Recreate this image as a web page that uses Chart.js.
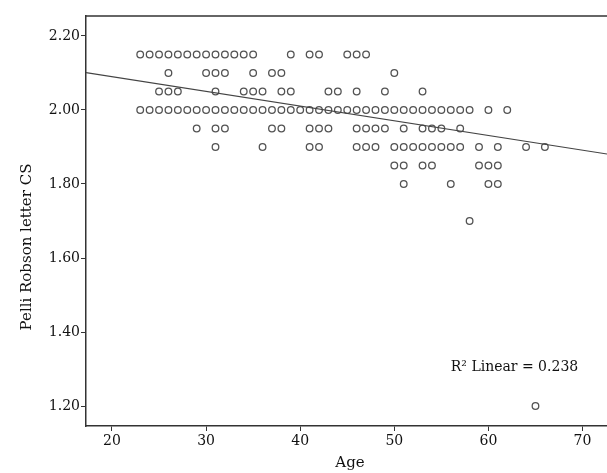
<!DOCTYPE html>
<html>
<head>
<meta charset="utf-8">
<script src="https://cdn.jsdelivr.net/npm/chart.js@4/dist/chart.umd.min.js"></script>
<style>
  html, body { margin: 0; padding: 0; background: #fff; }
  #wrap { width: 607px; height: 473px; }
</style>
</head>
<body>
<div id="wrap"><canvas id="chart"></canvas></div>
<script>
// ages observed at each Pelli Robson score
const age215 = [23, 24, 25, 26, 27, 28, 29, 30, 31, 32, 33, 34, 35, 39, 41, 42, 45, 46, 47];
const age210 = [26, 30, 31, 32, 35, 37, 38, 50];
const age205 = [25, 26, 27, 31, 34, 35, 36, 38, 39, 43, 44, 46, 49, 53];
const age200 = [23, 24, 25, 26, 27, 28, 29, 30, 31, 32, 33, 34, 35, 36, 37, 38, 39, 40, 41,
  42, 43, 44, 45, 46, 47, 48, 49, 50, 51, 52, 53, 54, 55, 56, 57, 58, 60, 62];
const age195 = [29, 31, 32, 37, 38, 41, 42, 43, 46, 47, 48, 49, 51, 53, 54, 55, 57];
const age190 = [31, 36, 41, 42, 46, 47, 48, 50, 51, 52, 53, 54, 55, 56, 57, 59, 61, 64, 66];
const age185 = [50, 51, 53, 54, 59, 60, 61];
const age180 = [51, 56, 60, 61];
const age170 = [58];
const age120 = [65];

const scoreLevels = [2.15, 2.10, 2.05, 2.00, 1.95, 1.90, 1.85, 1.80, 1.70, 1.20];
const agesByLevel = [age215, age210, age205, age200, age195, age190, age185, age180, age170, age120];

// fit line end points (age, score)
const fitAges = [17.24, 72.6];
const fitScores = [2.101, 1.881];

const xTicks = [20, 30, 40, 50, 60, 70];
const yTicks = [1.2, 1.4, 1.6, 1.8, 2.0, 2.2];

const points = [];
scoreLevels.forEach((s, i) => {
  agesByLevel[i].forEach((a) => points.push({ x: a, y: s }));
});

const FONT = '"DejaVu Serif", serif';
const AXIS = '#333';

const frameAndLabels = {
  id: 'frameAndLabels',
  afterDraw(chart) {
    const { ctx, chartArea: { left, right, top }, scales: { x, y } } = chart;
    ctx.save();
    ctx.strokeStyle = AXIS;
    ctx.lineWidth = 1.5;
    ctx.beginPath();
    ctx.moveTo(left, top);
    ctx.lineTo(right, top);
    ctx.stroke();

    ctx.fillStyle = '#111';
    ctx.font = '15px ' + FONT;
    ctx.textAlign = 'center';
    ctx.textBaseline = 'middle';
    ctx.fillText('Age', 350, 463);

    ctx.save();
    ctx.translate(27, 247);
    ctx.rotate(-Math.PI / 2);
    ctx.fillText('Pelli Robson letter CS', 0, 0);
    ctx.restore();

    ctx.font = '14px ' + FONT;
    ctx.textAlign = 'left';
    ctx.fillText('R\u00b2 Linear = 0.238', x.getPixelForValue(56.0), y.getPixelForValue(1.305));
    ctx.restore();
  },
};

new Chart(document.getElementById('chart'), {
  type: 'scatter',
  data: {
    datasets: [
      {
        label: 'Pelli Robson letter CS',
        data: points,
        pointStyle: 'circle',
        pointRadius: 3.3,
        pointBorderWidth: 1.3,
        pointBackgroundColor: 'rgba(255,255,255,0)',
        pointBorderColor: 'rgba(0,0,0,0.68)',
        order: 2,
      },
      {
        label: 'Fit line',
        type: 'line',
        data: fitAges.map((a, i) => ({ x: a, y: fitScores[i] })),
        borderColor: '#444',
        borderWidth: 1.2,
        pointRadius: 0,
        fill: false,
        order: 1,
      },
    ],
  },
  options: {
    responsive: true,
    maintainAspectRatio: false,
    animation: false,
    layout: { autoPadding: false, padding: { top: 16, right: 0, left: 0, bottom: 0 } },
    scales: {
      x: {
        type: 'linear',
        min: 17.24,
        max: 72.6,
        afterBuildTicks: (scale) => {
          scale.ticks = xTicks.map((t) => ({ value: t }));
        },
        afterFit: (scale) => {
          scale.height = 47;
        },
        grid: { drawOnChartArea: false, drawTicks: true, tickLength: 5, color: AXIS },
        border: { color: AXIS, width: 1.5 },
        ticks: {
          color: '#111',
          padding: 2,
          maxRotation: 0,
          font: { size: 14, family: FONT },
        },
      },
      y: {
        min: 1.146,
        max: 2.254,
        afterBuildTicks: (scale) => {
          scale.ticks = yTicks.map((t) => ({ value: t }));
        },
        afterFit: (scale) => {
          scale.width = 86;
        },
        grid: { drawOnChartArea: false, drawTicks: true, tickLength: 5, color: AXIS },
        border: { color: AXIS, width: 1.5 },
        ticks: {
          color: '#111',
          padding: 1,
          callback: (v) => v.toFixed(2),
          font: { size: 14, family: FONT },
        },
      },
    },
    plugins: {
      legend: { display: false },
      tooltip: { enabled: false },
    },
  },
  plugins: [frameAndLabels],
});
</script>
</body>
</html>
